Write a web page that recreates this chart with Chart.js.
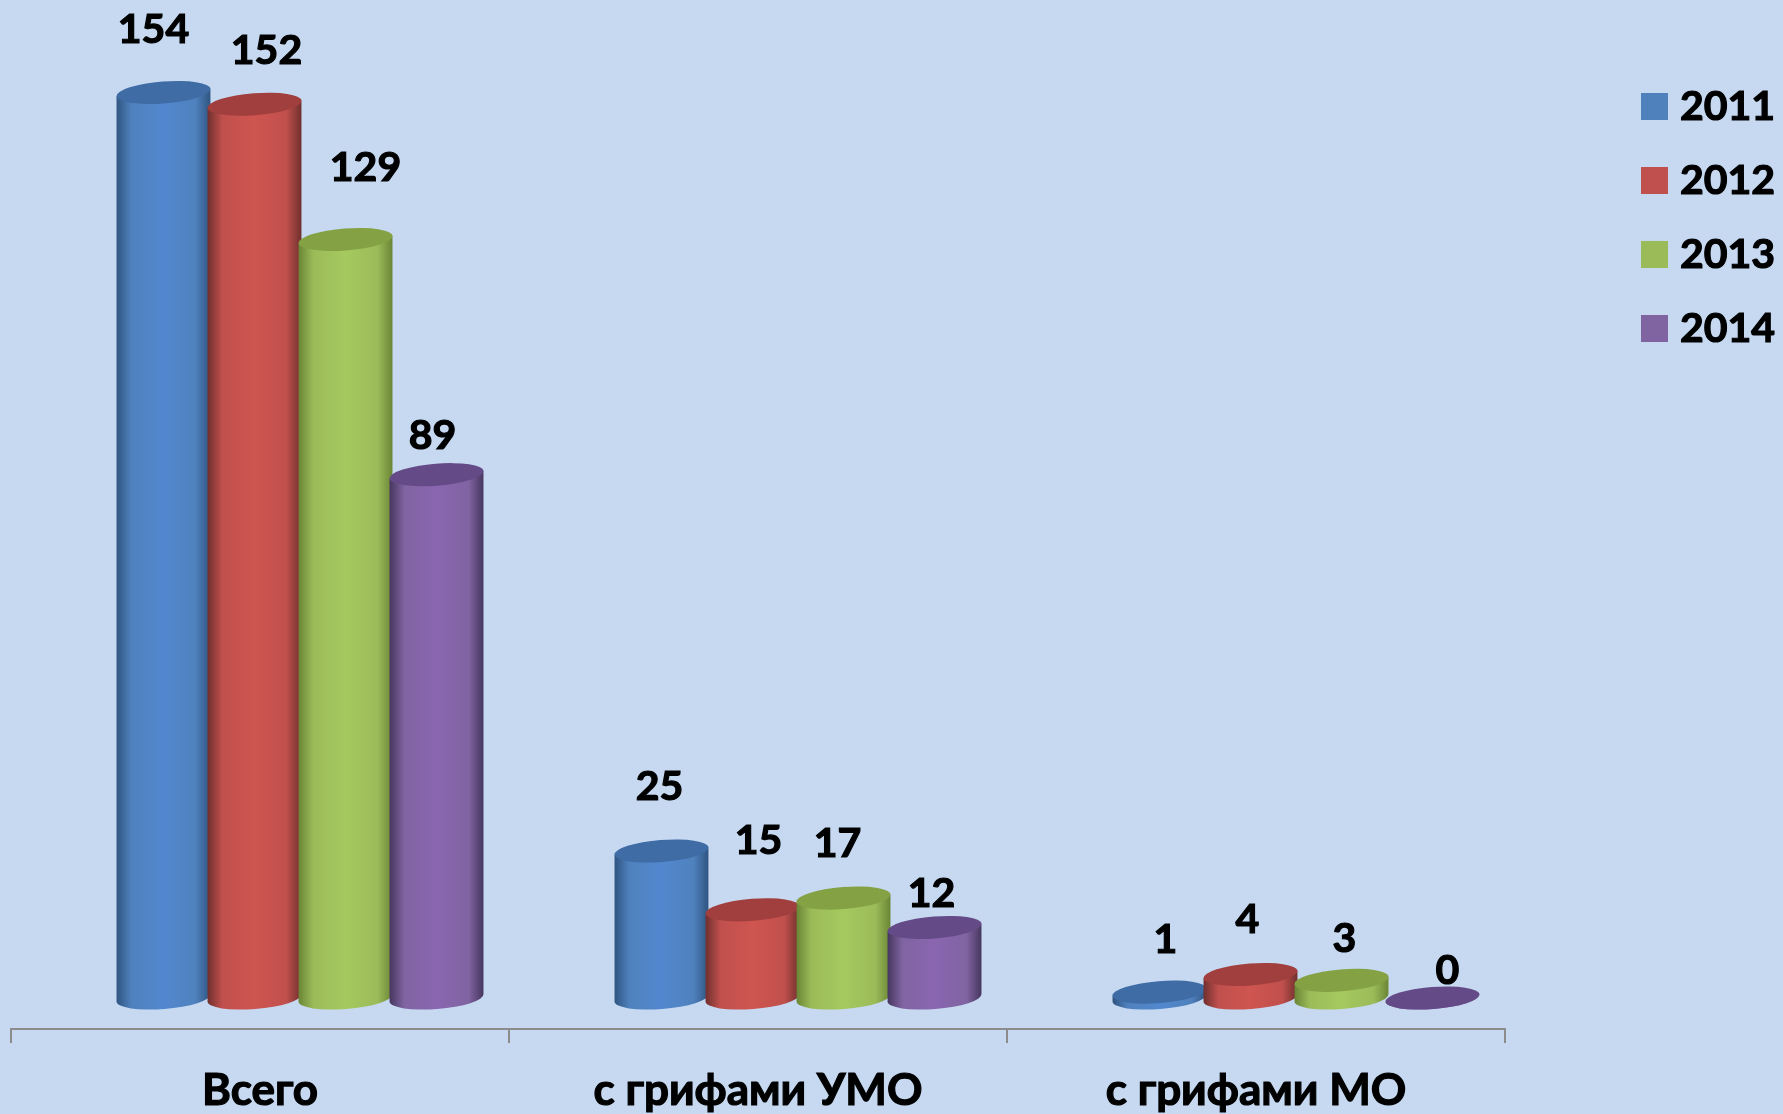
<!DOCTYPE html>
<html lang="ru">
<head>
<meta charset="utf-8">
<title>Издания по годам</title>
<script src="https://cdn.jsdelivr.net/npm/chart.js@4"></script>
<style>
    html, body { margin: 0; padding: 0; background: #c6d9f1; }
    canvas { display: block; }
</style>
</head>
<body>
<canvas id="grafik" width="1783" height="1114"></canvas>
<script>
const kategori = ['Всего', 'с грифами УМО', 'с грифами МО'];
const tahun = ['2011', '2012', '2013', '2014'];
const nilai2011 = [154, 25, 1];
const nilai2012 = [152, 15, 4];
const nilai2013 = [129, 17, 3];
const nilai2014 = [89, 12, 0];

// Flat series colours plus the shades used for the cylinder sides and caps.
const warna = ['#4f81bd', '#c0504d', '#9bbb59', '#8064a2'];
const warnaTepi = ['#2f5480', '#6f2f2d', '#6a8535', '#46365e'];
const warnaTerang = ['#5288cf', '#cf5550', '#a6c95f', '#8a66b0'];
const warnaTutup = ['#3f6ca5', '#a03f3d', '#84a243', '#644a86'];

// The value labels were moved by hand in the original, so each has its own nudge.
const geserLabel = [
    [[-10, -63], [-2, -64], [6, -52]],
    [[12, -53], [6, -69], [-3, -55]],
    [[20, -72], [-6, -54], [3, -42]],
    [[-4, -39], [-3, -34], [15, -27]]
];

const fontTebal = 'bold 41px Lato';
const geserBar = 40;   // the 3D floor pushes the bars right of their category centre
const miring = 4.5 * Math.PI / 180;
const tinggiElips = 11;

function gambarSilinder(ctx, el, i) {
    const cx = el.x + geserBar;
    const rx = el.width / 2;
    const dx = rx * Math.cos(miring);
    const dy = rx * Math.sin(miring);

    const grad = ctx.createLinearGradient(cx - rx, 0, cx + rx, 0);
    grad.addColorStop(0, warnaTepi[i]);
    grad.addColorStop(0.16, warna[i]);
    grad.addColorStop(0.5, warnaTerang[i]);
    grad.addColorStop(0.84, warna[i]);
    grad.addColorStop(1, warnaTepi[i]);

    ctx.beginPath();
    ctx.moveTo(cx - dx, el.y + dy);
    ctx.lineTo(cx - dx, el.base + dy);
    ctx.ellipse(cx, el.base, rx, tinggiElips, -miring, Math.PI, 0, true);
    ctx.lineTo(cx + dx, el.y - dy);
    ctx.closePath();
    ctx.fillStyle = grad;
    ctx.fill();

    ctx.beginPath();
    ctx.ellipse(cx, el.y, rx, tinggiElips, -miring, 0, Math.PI * 2);
    ctx.fillStyle = warnaTutup[i];
    ctx.fill();
}

// Lato bold is lighter than the original face, so the text gets a thin outline.
function tulis(ctx, teks, x, y) {
    ctx.fillText(teks, x, y);
    ctx.strokeText(teks, x, y);
}

const pluginSilinder = {
    id: 'silinder',
    // Bars are replaced by cylinders, so the default rectangles are skipped.
    beforeDatasetDraw: () => false,
    afterDatasetsDraw(chart) {
        const ctx = chart.ctx;
        ctx.save();
        chart.data.datasets.forEach((ds, i) => {
            chart.getDatasetMeta(i).data.forEach(el => gambarSilinder(ctx, el, i));
        });

        ctx.fillStyle = '#000';
        ctx.strokeStyle = '#000';
        ctx.lineWidth = 1.2;
        ctx.font = fontTebal;
        ctx.textAlign = 'center';
        ctx.textBaseline = 'middle';
        chart.data.datasets.forEach((ds, i) => {
            chart.getDatasetMeta(i).data.forEach((el, j) => {
                const [gx, gy] = geserLabel[i][j];
                tulis(ctx, String(ds.data[j]), el.x + geserBar + gx, el.y + gy);
            });
        });

        // Legend at the upper right.
        ctx.textAlign = 'left';
        tahun.forEach((t, i) => {
            const y = 106.5 + i * 74;
            ctx.fillStyle = warna[i];
            ctx.fillRect(1641, y - 13.5, 27, 27);
            ctx.fillStyle = '#000';
            tulis(ctx, t, 1680, y);
        });
        ctx.restore();
    }
};

new Chart(document.getElementById('grafik'), {
    type: 'bar',
    data: {
        labels: kategori,
        datasets: [nilai2011, nilai2012, nilai2013, nilai2014].map((data, i) => ({
            label: tahun[i],
            data: data,
            backgroundColor: warna[i],
            categoryPercentage: 0.731,
            barPercentage: 1.035
        }))
    },
    options: {
        responsive: false,
        animation: false,
        layout: { padding: { left: 11, right: 278, top: 0, bottom: 0 } },
        plugins: { legend: { display: false }, tooltip: { enabled: false } },
        scales: {
            x: {
                afterFit: s => { s.height = 85; },
                border: { color: '#8c8c8c', width: 2 },
                grid: { drawOnChartArea: false, color: '#8c8c8c', lineWidth: 2, tickLength: 14 },
                ticks: {
                    color: '#000',
                    font: { family: 'Lato', weight: 'bold', size: 44 },
                    textStrokeColor: '#000',
                    textStrokeWidth: 1.2,
                    padding: 21,
                    maxRotation: 0
                }
            },
            y: { display: false, min: -5.27, max: 169.73 }
        }
    },
    plugins: [pluginSilinder]
});
</script>
</body>
</html>
